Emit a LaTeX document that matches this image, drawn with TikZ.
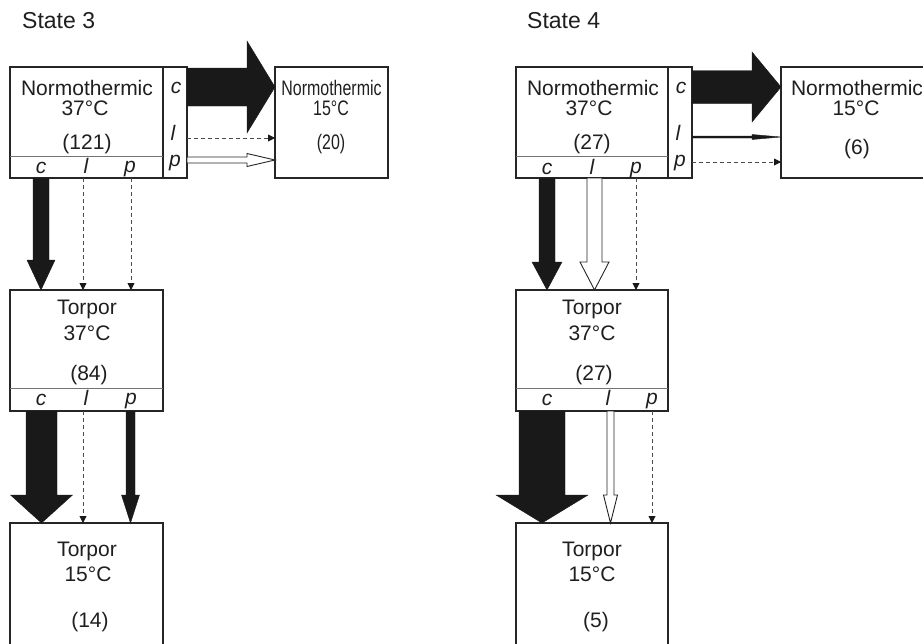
\documentclass[tikz,border=0pt]{standalone}
\usepackage{fontspec}
\setmainfont{Liberation Sans}
\usetikzlibrary{calc,arrows.meta}
\newcommand{\blkdown}[6]{\path[#1] ($(#2)+(-#4,0)$) -- ($(#2)+(#4,0)$) -- ($(#3)+(#4,-#6)$) -- ($(#3)+(#5,-#6)$) -- (#3) -- ($(#3)+(-#5,-#6)$) -- ($(#3)+(-#4,-#6)$) -- cycle;}
\newcommand{\blkright}[6]{\path[#1] ($(#2)+(0,-#4)$) -- ($(#3)+(-#6,-#4)$) -- ($(#3)+(-#6,-#5)$) -- (#3) -- ($(#3)+(-#6,#5)$) -- ($(#3)+(-#6,#4)$) -- ($(#2)+(0,#4)$) -- cycle;}
\newcommand{\narrowtext}[1]{\scalebox{0.76}[1]{#1}}
\begin{document}
\begin{tikzpicture}[x=1pt,y=-1pt,
  font=\fontsize{21pt}{25pt}\selectfont,
  boxst/.style={draw=black!85, line width=1.1pt, inner sep=0pt, outer sep=0pt},
  divider/.style={draw=black!55, line width=0.9pt},
  lab/.style={anchor=base, inner sep=0pt, text=black!88},
  ilab/.style={anchor=base, inner sep=0pt, text=black!88, font=\fontsize{21pt}{25pt}\selectfont\itshape},
  ttl/.style={anchor=base west, inner sep=0pt, text=black!88, font=\fontsize{23pt}{27pt}\selectfont},
  solidarr/.style={fill=black!90, draw=black!90, line width=0.4pt},
  openarr/.style={fill=white, draw=black!85, line width=0.9pt},
  dasharr/.style={draw=black!70, line width=0.9pt, dash pattern=on 4pt off 3pt, -{Triangle[width=7pt,length=7pt,color=black!90]}}]
\clip (0,0) rectangle (923,643);
\fill[white] (0,0) rectangle (923,643);

% ---------------- State 3 ----------------
\node[ttl] (t3) at (22,28) {State 3};

\node[boxst, minimum width=153pt, minimum height=111pt] (nA) at (86.5,122.5) {};
\node[boxst, minimum width=24pt, minimum height=111pt] (nAs) at (175,122.5) {};
\draw[divider] ($(nA.south west)+(0,-22)$) -- ($(nA.south east)+(0,-22)$);
\node[lab] (nA1) at (87,95) {Normothermic};
\node[lab] (nA2) at (85,115) {37°C};
\node[lab] (nA3) at (87,149) {(121)};
\node[ilab] (nAc) at (41,173) {c};
\node[ilab] (nAl) at (86,173) {l};
\node[ilab] (nAp) at (130,172) {p};
\node[ilab] (nAsc) at (176,93) {c};
\node[ilab] (nAsl) at (173,140) {l};
\node[ilab] (nAsp) at (175,166) {p};

\node[boxst, minimum width=113pt, minimum height=111pt] (nB) at (331.5,122.5) {};
\node[lab] (nB1) at (331.5,95) {\narrowtext{Normothermic}};
\node[lab] (nB2) at (331,115) {\narrowtext{15°C}};
\node[lab] (nB3) at (331,149) {\narrowtext{(20)}};

\node[boxst, minimum width=153pt, minimum height=121pt] (nC) at (86.5,350.5) {};
\draw[divider] ($(nC.south west)+(0,-23)$) -- ($(nC.south east)+(0,-23)$);
\node[lab] (nC1) at (87,314) {Torpor};
\node[lab] (nC2) at (87,340) {37°C};
\node[lab] (nC3) at (89,380) {(84)};
\node[ilab] (nCc) at (41,405) {c};
\node[ilab] (nCl) at (86,405) {l};
\node[ilab] (nCp) at (131,404) {p};

\node[boxst, minimum width=153pt, minimum height=137pt] (nD) at (86.5,591.5) {};
\node[lab] (nD1) at (87,556) {Torpor};
\node[lab] (nD2) at (88,581) {15°C};
\node[lab] (nD3) at (90,627) {(14)};

% arrows State 3
\coordinate (a1s) at (187,87); \coordinate (a1e) at (275,87);
\blkright{solidarr}{a1s}{a1e}{19}{46}{28}
\coordinate (a2s) at (187,138); \coordinate (a2e) at (275,138);
\draw[dasharr] (a2s) -- (a2e);
\coordinate (a3s) at (187,160); \coordinate (a3e) at (275,160);
\blkright{openarr}{a3s}{a3e}{3}{6.5}{28}

\coordinate (a4s) at (41,178); \coordinate (a4e) at (41,290);
\blkdown{solidarr}{a4s}{a4e}{8}{14}{30}
\coordinate (a5s) at (83,178); \coordinate (a5e) at (83,290);
\draw[dasharr] (a5s) -- (a5e);
\coordinate (a6s) at (131,178); \coordinate (a6e) at (131,290);
\draw[dasharr] (a6s) -- (a6e);

\coordinate (a7s) at (41.5,411); \coordinate (a7e) at (41.5,523);
\blkdown{solidarr}{a7s}{a7e}{15.5}{31}{28}
\coordinate (a8s) at (83,411); \coordinate (a8e) at (83,523);
\draw[dasharr] (a8s) -- (a8e);
\coordinate (a9s) at (130.5,411); \coordinate (a9e) at (130.5,523);
\blkdown{solidarr}{a9s}{a9e}{4.5}{9}{28}

% ---------------- State 4 ----------------
\node[ttl] (t4) at (527,28) {State 4};

\node[boxst, minimum width=152pt, minimum height=111pt] (nE) at (592,122.5) {};
\node[boxst, minimum width=24pt, minimum height=111pt] (nEs) at (680,122.5) {};
\draw[divider] ($(nE.south west)+(0,-22)$) -- ($(nE.south east)+(0,-22)$);
\node[lab] (nE1) at (593,95) {Normothermic};
\node[lab] (nE2) at (589,115) {37°C};
\node[lab] (nE3) at (592,149) {(27)};
\node[ilab] (nEc) at (547,174) {c};
\node[ilab] (nEl) at (592,174) {l};
\node[ilab] (nEp) at (636,173) {p};
\node[ilab] (nEsc) at (681,93) {c};
\node[ilab] (nEsl) at (678,140) {l};
\node[ilab] (nEsp) at (680,166) {p};

\node[boxst, minimum width=153pt, minimum height=111pt] (nF) at (857.5,122.5) {};
\node[lab] (nF1) at (857,95) {Normothermic};
\node[lab] (nF2) at (856,115) {15°C};
\node[lab] (nF3) at (857,154) {(6)};

\node[boxst, minimum width=152pt, minimum height=121pt] (nG) at (592,350.5) {};
\draw[divider] ($(nG.south west)+(0,-23)$) -- ($(nG.south east)+(0,-23)$);
\node[lab] (nG1) at (592,314) {Torpor};
\node[lab] (nG2) at (592,340) {37°C};
\node[lab] (nG3) at (594,380) {(27)};
\node[ilab] (nGc) at (547,405) {c};
\node[ilab] (nGl) at (608,405) {l};
\node[ilab] (nGp) at (652,404) {p};

\node[boxst, minimum width=152pt, minimum height=137pt] (nH) at (592,591.5) {};
\node[lab] (nH1) at (592,556) {Torpor};
\node[lab] (nH2) at (592,581) {15°C};
\node[lab] (nH3) at (596,627) {(5)};

% arrows State 4
\coordinate (b1s) at (692,87); \coordinate (b1e) at (781,87);
\blkright{solidarr}{b1s}{b1e}{16.5}{35}{29}
\coordinate (b2s) at (692,137); \coordinate (b2e) at (781,137);
\blkright{solidarr}{b2s}{b2e}{1}{2.5}{29}
\coordinate (b3s) at (692,162); \coordinate (b3e) at (781,162);
\draw[dasharr] (b3s) -- (b3e);

\coordinate (b4s) at (547,178); \coordinate (b4e) at (547,290);
\blkdown{solidarr}{b4s}{b4e}{8}{15}{28}
\coordinate (b5s) at (594.5,178); \coordinate (b5e) at (594.5,290);
\blkdown{openarr}{b5s}{b5e}{7.5}{14.5}{28}
\coordinate (b6s) at (636,178); \coordinate (b6e) at (636,290);
\draw[dasharr] (b6s) -- (b6e);

\coordinate (b7s) at (542,411); \coordinate (b7e) at (542,523);
\blkdown{solidarr}{b7s}{b7e}{23}{46}{28}
\coordinate (b8s) at (610.5,411); \coordinate (b8e) at (610.5,523);
\blkdown{openarr}{b8s}{b8e}{3.5}{7}{28}
\coordinate (b9s) at (652,411); \coordinate (b9e) at (652,523);
\draw[dasharr] (b9s) -- (b9e);
\end{tikzpicture}
\end{document}
